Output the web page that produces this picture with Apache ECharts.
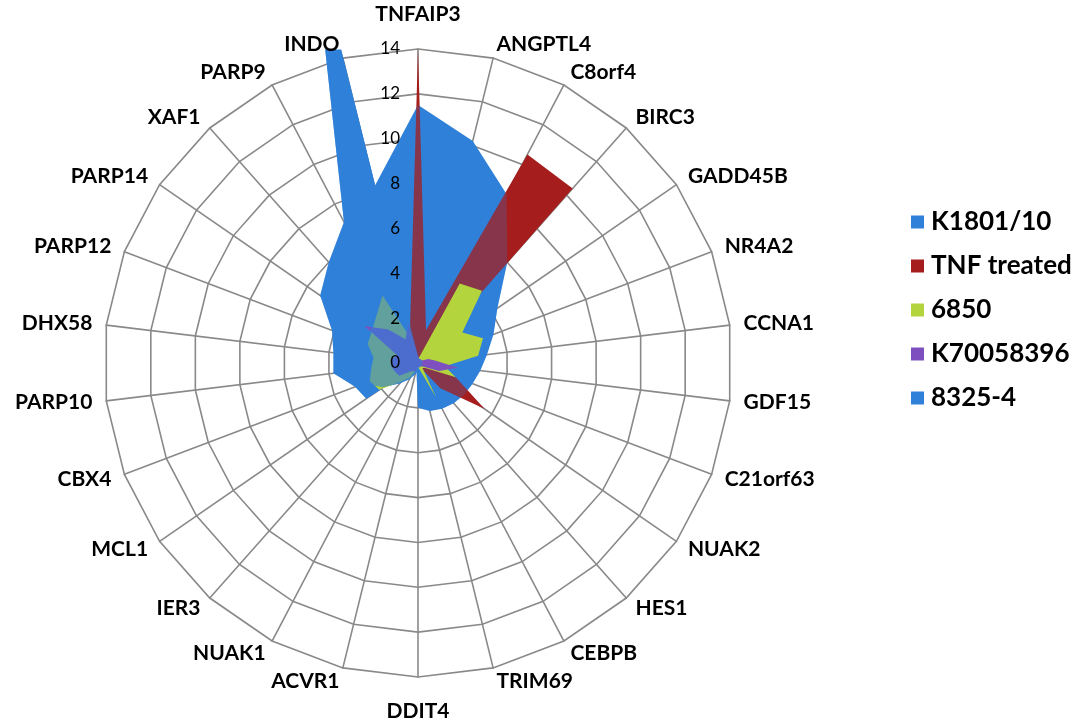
<!DOCTYPE html>
<html>
<head>
<meta charset="utf-8">
<script src="https://cdn.jsdelivr.net/npm/echarts/dist/echarts.min.js"></script>
<style>
  html, body { margin: 0; padding: 0; background: #ffffff; }
  #chart { width: 1084px; height: 722px; }
</style>
</head>
<body>
<div id="chart"></div>
<script>
// Genes, listed clockwise from the top
const genes = ['TNFAIP3', 'ANGPTL4', 'C8orf4', 'BIRC3', 'GADD45B', 'NR4A2', 'CCNA1', 'GDF15',
  'C21orf63', 'NUAK2', 'HES1', 'CEBPB', 'TRIM69', 'DDIT4', 'ACVR1', 'NUAK1', 'IER3', 'MCL1',
  'CBX4', 'PARP10', 'DHX58', 'PARP12', 'PARP14', 'XAF1', 'PARP9', 'INDO'];

// Fold change per gene for each strain / condition
const k1801 = [11.5, 10.2, 8.5, 6.0, 4.3, 3.6, 3.1, 2.8, 2.6, 2.5, 2.4, 2.3, 2.2, 2.0,
  0.3, 0.3, 0.4, 2.8, 3.0, 3.8, 3.8, 4.1, 5.3, 6.0, 7.1, 8.1];
const tnfTreated = [14.0, 1.5, 10.5, 10.4, 0.2, 0.2, 0.2, 0.2, 1.8, 3.6, 1.5, 0.2, 0.2, 0.2,
  0.2, 0.2, 0.2, 0.2, 0.2, 0.2, 0.2, 0.2, 0.2, 0.2, 0.2, 1.5];
const s6850 = [0.2, 0.3, 4.0, 4.3, 2.4, 3.1, 2.7, 1.2, 1.8, 0.4, 0.3, 1.75, 0.3, 0.2,
  0.3, 0.7, 1.1, 2.1, 2.3, 2.1, 2.0, 2.4, 2.5, 2.8, 3.4, 1.0];
const k70058396 = [0.3, 0.2, 0.2, 0.2, 0.2, 0.5, 0.8, 1.8, 1.0, 0.3, 0.2, 0.2, 0.2, 0.2,
  0.4, 0.4, 0.5, 1.0, 1.1, 1.2, 1.2, 1.0, 2.9, 2.0, 1.2, 1.8];
const s8325 = [0.3, 0.2, 0.2, 0.2, 0.2, 0.2, 0.2, 0.2, 0.2, 0.2, 0.2, 0.2, 0.2, 0.3,
  0.5, 0.8, 1.2, 1.9, 2.6, 2.3, 2.1, 2.5, 2.6, 2.9, 7.1, 19.6];

const seriesNames = ['K1801/10', 'TNF treated', '6850', 'K70058396', '8325-4'];
const axisMax = 14;

// ECharts lays radar indicators out counter-clockwise; keep the first one on top
// and reverse the rest so the genes run clockwise.
const clockwise = arr => [arr[0]].concat(arr.slice(1).reverse());

const FONT = 'Lato, "Open Sans", sans-serif';
const GRID = '#898989';
const BLUE = '#2f80d9';
const CENTER = [418, 363];
const RADIUS = 314;

function area(name, values, color, opacity) {
  return {
    type: 'radar',
    radarIndex: 0,
    name: name,
    symbol: 'none',
    silent: true,
    itemStyle: { color: color },
    lineStyle: { width: 0, color: color },
    areaStyle: { color: color, opacity: opacity },
    data: [{ value: clockwise(values), name: name }]
  };
}

// top and bottom gene names sit a little further out than the rest
const nameGapFor = g => (g === 'TNFAIP3' || g === 'DDIT4') ? 24 : 14;

const chart = echarts.init(document.getElementById('chart'), null, { renderer: 'canvas' });
chart.setOption({
  backgroundColor: '#ffffff',
  animation: false,
  legend: {
    data: seriesNames,
    orient: 'vertical',
    left: 906,
    top: 204,
    itemWidth: 13,
    itemHeight: 13,
    itemGap: 18,
    icon: 'rect',
    selectedMode: false,
    textStyle: { fontFamily: FONT, fontWeight: 'bold', fontSize: 26, color: '#000', padding: [0, 0, 0, 2] }
  },
  // the plot area ends at the top ring: anything above it is cut off
  graphic: [{
    type: 'rect',
    silent: true,
    z: 5,
    shape: { x: 300, y: 0, width: 80, height: 49.5 },
    style: { fill: '#ffffff' }
  }],
  radar: [
    {
      // grid and spokes, drawn beneath the filled areas
      center: CENTER,
      radius: RADIUS,
      startAngle: 90,
      shape: 'polygon',
      splitNumber: 7,
      indicator: clockwise(genes).map(g => ({ name: '', min: 0, max: axisMax })),
      axisName: { show: false },
      splitLine: { lineStyle: { color: GRID, width: 1.6 } },
      splitArea: { show: false },
      axisLine: { lineStyle: { color: GRID, width: 1.6 } },
      axisTick: { show: false },
      axisLabel: { show: false }
    },
    {
      // gene names and the value labels along the TNFAIP3 spoke, drawn on top
      center: CENTER,
      radius: RADIUS,
      startAngle: 90,
      shape: 'polygon',
      splitNumber: 7,
      z: 10,
      nameGap: 14,
      indicator: clockwise(genes).map((g, i) => ({
        name: g, min: 0, max: axisMax, nameGap: nameGapFor(g),
        axisLabel: { show: i === 0 }
      })),
      axisName: { color: '#000', fontFamily: FONT, fontWeight: 'bold', fontSize: 21 },
      splitLine: { show: false },
      splitArea: { show: false },
      axisLine: { show: false },
      axisTick: { show: false },
      axisLabel: { show: false, color: '#000', fontFamily: FONT, fontSize: 17, margin: 18 }
    }
  ],
  series: [
    area('K1801/10', k1801, BLUE, 1),
    area('8325-4', s8325, BLUE, 1),
    area('TNF treated', tnfTreated, '#a51d1d', 1),
    // darkens the TNF fill where it lies over the blue areas
    area('TNF overlap tint', k1801, BLUE, 0.25),
    area('6850', s6850, '#b3d43c', 1),
    area('K70058396', k70058396, '#7e4fbe', 1),
    // translucent 8325-4 layer: tints the 6850 and K70058396 fills it covers
    area('8325-4 layer', s8325, BLUE, 0.62)
  ]
});
</script>
</body>
</html>
